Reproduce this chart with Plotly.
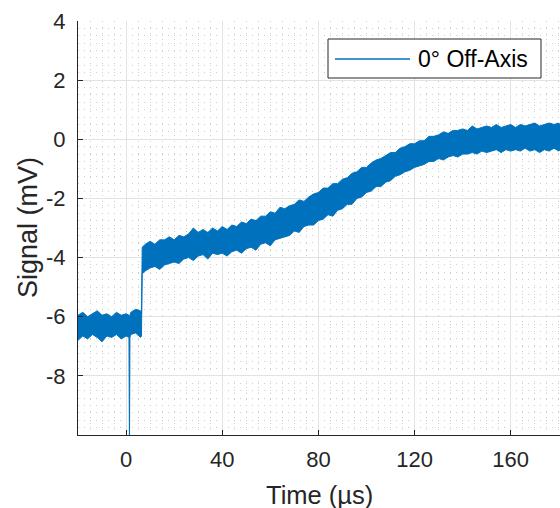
import plotly.graph_objects as go

# Time axis (µs) and signal envelope (mV)
time_us = [-20, -18, -16, -14, -12, -10, -8, -6, -4, -2, 0, 1.2, 1.4, 1.6, 2, 4, 6, 6.4, 6.7,
           8, 10, 12, 14, 16, 18, 20, 22, 24, 26, 28, 30, 32, 34, 36, 38, 40, 42, 44, 46, 48,
           50, 52, 54, 56, 58, 60, 62, 64, 66, 68, 70, 72, 74, 76, 78, 80, 82, 84, 86, 88,
           90, 92, 94, 96, 98, 100, 102, 104, 106, 108, 110, 112, 114, 116, 118, 120, 122,
           124, 126, 128, 130, 132, 134, 136, 138, 140, 142, 144, 146, 148, 150, 152, 154,
           156, 158, 160, 162, 164, 166, 168, 170, 172, 174, 176, 178, 180, 180.5]
signal_upper_mV = [-5.95, -5.85, -6.0, -5.9, -5.8, -5.95, -5.9, -6.0, -5.85, -5.95, -5.9, -5.95,
                   -6.0, -5.95, -5.85, -5.75, -5.8, -5.9, -3.65,
                   -3.55, -3.45, -3.55, -3.4, -3.4, -3.3, -3.4, -3.25, -3.3, -3.2, -3.0, -3.15,
                   -3.05, -3.15, -3.0, -3.1, -2.95, -3.05, -2.9, -2.95, -2.8, -2.85, -2.7, -2.75,
                   -2.6, -2.6, -2.45, -2.5, -2.3, -2.35, -2.25, -2.2, -2.05, -2.1, -1.95, -1.85,
                   -1.8, -1.65, -1.65, -1.5, -1.5, -1.35, -1.3, -1.15, -1.1, -0.95, -0.95, -0.8,
                   -0.7, -0.65, -0.55, -0.45, -0.45, -0.3, -0.25, -0.15, -0.15, -0.05, -0.05,
                   0.1, 0.1, 0.15, 0.25, 0.2, 0.3, 0.3, 0.35, 0.3, 0.45, 0.35, 0.4, 0.45, 0.4,
                   0.5, 0.4, 0.45, 0.5, 0.4, 0.5, 0.45, 0.5, 0.55, 0.45, 0.5, 0.55, 0.5, 0.55, 0.5]
signal_lower_mV = [-6.8, -6.65, -6.75, -6.6, -6.7, -6.85, -6.65, -6.7, -6.6, -6.75, -6.65, -6.7,
                   -10.6, -6.7, -6.6, -6.55, -6.7, -6.65, -4.55,
                   -4.45, -4.35, -4.3, -4.4, -4.25, -4.2, -4.15, -4.2, -4.05, -4.0, -4.1, -3.95,
                   -3.9, -4.05, -3.85, -3.9, -3.85, -3.95, -3.8, -3.75, -3.85, -3.7, -3.65, -3.75,
                   -3.55, -3.5, -3.6, -3.4, -3.35, -3.3, -3.25, -3.1, -3.15, -2.95, -2.9, -2.9,
                   -2.75, -2.7, -2.55, -2.6, -2.4, -2.35, -2.2, -2.2, -2.0, -1.95, -1.8, -1.75,
                   -1.6, -1.6, -1.45, -1.4, -1.25, -1.2, -1.1, -1.05, -0.95, -0.9, -0.85, -0.75,
                   -0.75, -0.65, -0.7, -0.6, -0.55, -0.6, -0.5, -0.5, -0.45, -0.5, -0.4, -0.45,
                   -0.4, -0.35, -0.45, -0.35, -0.4, -0.35, -0.4, -0.3, -0.4, -0.35, -0.45, -0.35,
                   -0.4, -0.3, -0.4, -0.35]

x_ticks = [0, 40, 80, 120, 160]
x_tick_labels = ["0", "40", "80", "120", "160"]
y_ticks = [-8, -6, -4, -2, 0, 2, 4]
y_tick_labels = ["-8", "-6", "-4", "-2", "0", "2", "4"]
series_name = "0° Off-Axis"
x_title = "Time (µs)"
y_title = "Signal (mV)"

BLUE = "#0072BD"
DARK = "#262626"
FONT = "Liberation Sans, Arial, sans-serif"

fig = go.Figure()
fig.add_trace(go.Scatter(x=time_us, y=signal_lower_mV, mode="lines",
                         line=dict(color=BLUE, width=1), showlegend=False, hoverinfo="skip"))
fig.add_trace(go.Scatter(x=time_us, y=signal_upper_mV, mode="lines", fill="tonexty",
                         fillcolor=BLUE, line=dict(color=BLUE, width=1), showlegend=False,
                         name=series_name))

axis_common = dict(
    showline=True, linecolor=DARK, linewidth=1,
    ticks="inside", ticklen=5, tickcolor=DARK, tickwidth=1,
    showgrid=True, gridcolor="#e2e2e2", gridwidth=1,
    zeroline=False, mirror=False, automargin=False,
    tickfont=dict(family=FONT, size=22, color=DARK),
)

fig.update_xaxes(**axis_common, range=[-20, 180.5], tickvals=x_ticks, ticktext=x_tick_labels,
                 ticklabelstandoff=5,
                 minor=dict(dtick=5, tick0=0, showgrid=True, gridcolor="#cccccc",
                            griddash="1px,5px", gridwidth=1, ticks=""))
fig.update_yaxes(**axis_common, range=[-10, 4], tickvals=y_ticks, ticktext=y_tick_labels,
                 ticklabelstandoff=7,
                 minor=dict(dtick=0.25, tick0=0, showgrid=True, gridcolor="#cccccc",
                            griddash="1px,5px", gridwidth=1, ticks=""))

# Axis titles
fig.add_annotation(text=x_title, xref="paper", yref="paper", x=0.5, y=0, yshift=-60,
                   showarrow=False, xanchor="center", yanchor="middle",
                   font=dict(family=FONT, size=25.5, color=DARK))
fig.add_annotation(text=y_title, xref="paper", yref="paper", x=0, y=0.5, xshift=-50,
                   showarrow=False, xanchor="center", yanchor="middle", textangle=-90,
                   font=dict(family=FONT, size=27, color=DARK))

# Legend box (MATLAB style: long line sample)
fig.add_shape(type="rect", xref="paper", yref="paper", x0=0.5187, x1=0.9606, y0=0.8623, y1=0.9565,
              line=dict(color=DARK, width=1), fillcolor="white", layer="above")
fig.add_shape(type="line", xref="paper", yref="paper", x0=0.5332, x1=0.6888, y0=0.9082, y1=0.9082,
              line=dict(color=BLUE, width=1.5), layer="above")
fig.add_annotation(text=series_name, xref="paper", yref="paper", x=0.7012, y=0.9082,
                   showarrow=False, xanchor="left", yanchor="middle",
                   font=dict(family=FONT, size=23, color="#000000"))

fig.update_layout(
    width=560, height=508,
    margin=dict(l=78, r=0, t=21, b=73),
    plot_bgcolor="white", paper_bgcolor="white",
    font=dict(family=FONT, color=DARK),
    showlegend=False,
)

fig.write_html("out.html", config={"displayModeBar": False},
               post_script="document.body.style.margin='0';document.body.style.overflow='hidden';")
